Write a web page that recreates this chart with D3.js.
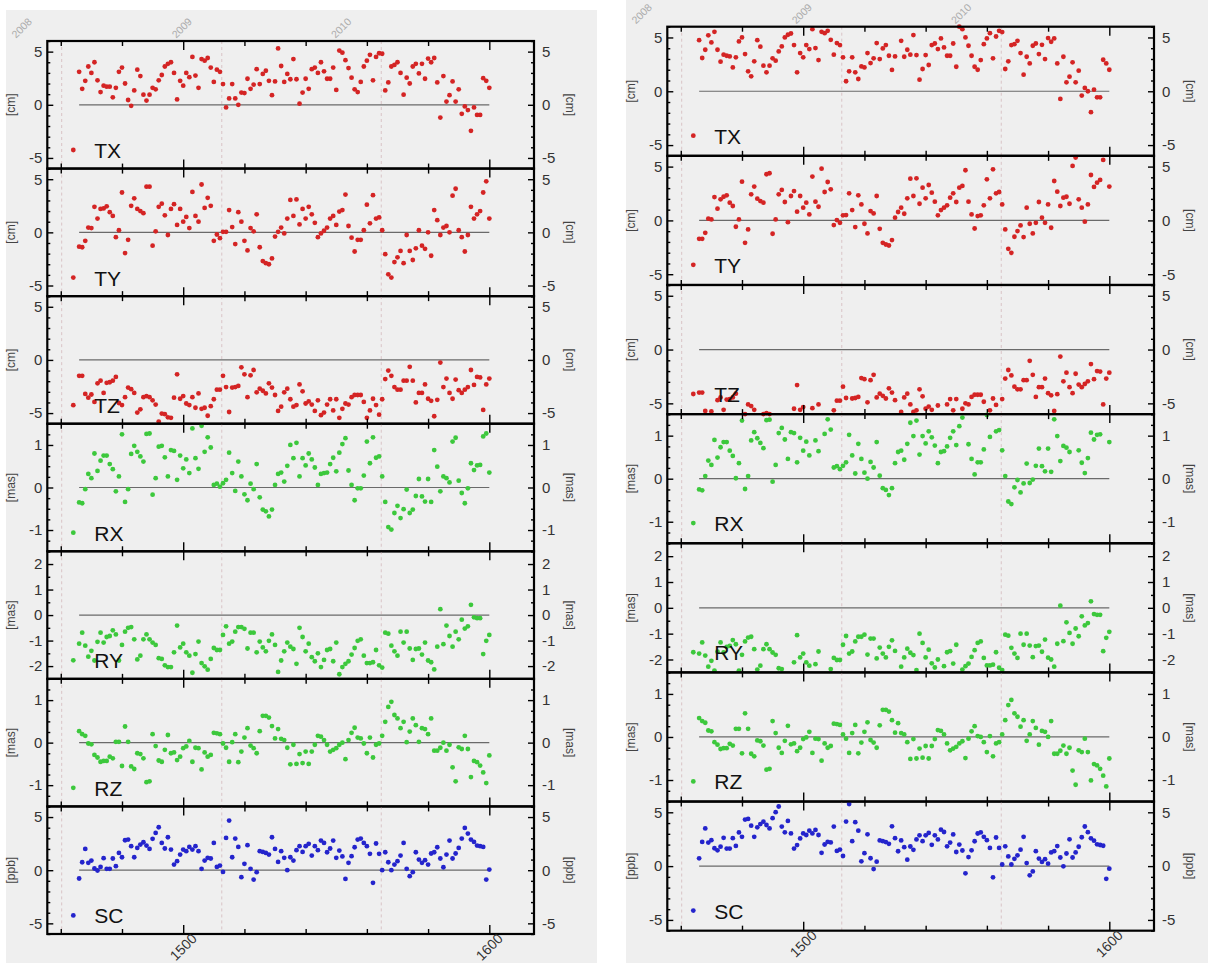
<!DOCTYPE html>
<html>
<head>
<meta charset="utf-8">
<script src="https://cdn.jsdelivr.net/npm/d3@7"></script>
<style>
  body { margin: 0; background: #fff; }
  svg { display: block; font-family: "Liberation Sans", Arial, sans-serif; }
  .tick text { font-size: 15px; fill: #333; }
  .tick line { stroke: #000; stroke-width: 1.4; }
</style>
</head>
<body>
<svg id="vis-svg"></svg>
<script>
// GPS weeks of the weekly solutions
var weeks = d3.range(1466, 1601);
var yearWeeks = [1460.3, 1512.6, 1564.7];
var yearLabels = ["2008", "2009", "2010"];
var weekTicks = [1460, 1480, 1520, 1540, 1560, 1580];
var weekLabels = [1500, 1600];

var components = ["TX", "TY", "TZ", "RX", "RY", "RZ", "SC"];
var units = ["[cm]", "[cm]", "[cm]", "[mas]", "[mas]", "[mas]", "[ppb]"];
var yTicks = [[-5, 0, 5], [-5, 0, 5], [-5, 0, 5], [-1, 0, 1], [-2, -1, 0, 1, 2], [-1, 0, 1], [-5, 0, 5]];

// left panel
var leftTX = [3.1,1.5,2.25,3.6,3.0,4.0,2.3,1.2,1.8,1.7,
  1.7,0.7,1.6,3.1,3.5,2.0,0.45,-0.1,1.35,3.3,
  2.7,0.95,0.4,0.95,1.6,1.45,2.3,2.8,3.6,3.85,
  4.0,3.0,0.5,2.25,1.8,3.0,2.6,4.5,2.75,1.6,
  4.3,4.15,4.4,3.5,2.15,3.3,3.1,1.95,-0.25,0.6,
  1.95,0.6,0.0,1.15,1.1,2.45,1.5,1.9,3.35,1.95,
  2.9,3.2,2.25,0.9,2.2,5.3,3.65,2.15,2.9,2.4,
  4.3,2.4,0.1,1.15,2.45,1.5,3.35,3.5,3.0,4.0,
  3.15,2.45,2.45,3.5,1.4,5.1,4.9,4.2,3.45,2.55,
  1.45,1.2,2.15,3.6,4.15,4.7,2.3,4.5,4.85,4.8,
  1.35,2.1,3.6,3.75,4.0,3.0,0.95,2.55,2.0,3.6,
  3.85,2.95,3.85,2.45,4.35,4.0,4.4,2.1,-1.2,2.7,
  0.3,0.9,2.2,0.3,1.45,-0.85,-0.15,-0.5,-2.45,-0.25,
  -0.95,-0.95,2.5,2.25,1.6];
var leftTY = [-1.35,-1.4,-0.8,0.45,0.4,2.4,1.3,2.2,2.25,2.45,
  1.9,1.55,-0.45,0.2,3.75,-1.95,-0.7,2.5,3.2,2.2,
  2.0,1.8,4.3,4.3,-1.25,0.1,2.4,2.7,1.6,-0.25,
  2.2,2.65,0.7,2.2,1.0,1.45,0.4,3.8,1.55,1.0,
  4.5,2.3,3.25,2.5,-0.8,-0.2,-0.55,0.05,0.05,2.1,
  0.5,-1.1,1.9,1.0,-0.8,-1.7,0.4,0.1,1.7,-1.4,
  -2.7,-2.9,-3.0,-2.45,-0.4,0.05,0.45,-0.1,1.3,3.05,
  1.55,3.1,0.75,2.2,1.3,2.4,1.7,0.9,-0.45,-0.1,
  0.15,0.45,1.3,1.55,0.7,1.95,2.1,3.55,0.6,-0.5,
  -1.8,-0.7,-0.7,0.2,2.6,0.85,3.5,1.3,1.4,0.2,
  -2.05,-3.95,-4.25,-2.8,-2.35,-1.75,-2.9,-0.25,-1.75,-2.6,
  -1.5,0.2,-1.25,-1.55,0.0,-2.2,2.1,1.15,-0.25,0.45,
  0.6,0.0,3.45,4.1,0.2,-0.45,-1.8,-0.25,2.4,1.3,
  1.7,2.0,3.75,4.8,1.3];
var leftTZ = [-1.5,-1.5,-3.2,-3.55,-3.25,-3.95,-2.2,-1.95,-3.1,-2.15,
  -2.1,-1.95,-1.6,-4.05,-4.25,-3.5,-2.6,-2.75,-3.1,-4.95,
  -4.65,-3.5,-3.4,-3.5,-3.8,-4.2,-5.8,-5.05,-5.1,-5.4,
  -5.45,-3.55,-1.35,-3.65,-3.4,-4.1,-4.25,-3.5,-4.5,-3.15,
  -4.6,-4.5,-5.25,-4.35,-3.7,-2.8,-2.8,-1.5,-2.55,-4.9,
  -2.6,-2.55,-2.45,-0.7,-1.35,-3.5,-1.45,-0.95,-3.05,-2.7,
  -2.9,-3.15,-2.2,-2.6,-3.3,-4.8,-4.4,-3.05,-2.7,-3.7,
  -4.4,-4.25,-2.3,-2.95,-4.1,-3.9,-4.2,-4.8,-3.8,-5.2,
  -4.95,-4.2,-3.7,-4.75,-3.7,-5.45,-4.6,-4.1,-4.2,-3.5,
  -3.3,-3.3,-3.3,-3.95,-5.45,-4.75,-3.65,-4.25,-5.15,-3.7,
  -1.8,-1.0,-1.5,-2.55,-2.8,-2.8,-1.95,-1.95,-0.65,-1.95,
  -4.0,-3.1,-3.1,-2.3,-3.65,-3.85,-5.3,-3.75,-0.25,-2.55,
  -1.75,-3.1,-3.65,-1.85,-2.85,-3.1,-2.8,-2.55,-0.95,-2.35,
  -1.6,-1.65,-4.7,-2.3,-1.75];
var leftRX = [-0.35,-0.37,-0.04,0.32,0.22,0.8,0.39,0.63,0.75,0.75,
  0.55,0.43,-0.09,0.26,1.25,-0.34,-0.04,0.79,0.98,0.84,
  0.73,0.61,1.26,1.27,-0.17,0.22,0.96,0.98,0.71,0.26,
  0.88,0.86,0.18,0.75,0.45,0.66,0.34,1.39,0.69,0.44,
  1.45,0.84,1.18,0.94,0.06,0.09,0.02,0.1,0.18,0.82,
  0.34,-0.08,0.61,0.26,-0.16,-0.3,0.09,-0.04,0.55,-0.23,
  -0.52,-0.56,-0.68,-0.52,0.06,0.32,0.35,0.14,0.51,1.0,
  0.69,1.05,0.26,0.69,0.52,0.8,0.66,0.47,0.06,0.32,
  0.34,0.35,0.55,0.7,0.38,0.82,1.02,1.16,0.4,0.06,
  -0.3,-0.02,-0.02,0.28,1.08,0.57,1.18,0.7,0.73,0.26,
  -0.34,-0.93,-0.99,-0.6,-0.43,-0.72,-0.51,-0.05,-0.6,-0.52,
  -0.2,0.2,-0.21,-0.33,0.2,-0.34,0.88,0.49,-0.09,0.26,
  0.22,0.12,1.08,1.17,0.16,-0.13,-0.37,-0.02,0.57,0.41,
  0.52,0.53,1.2,1.27,0.35];
var leftRY = [-1.12,-0.69,-1.2,-1.63,-1.4,-1.78,-1.05,-0.69,-1.08,-0.86,
  -0.82,-0.6,-0.76,-1.78,-1.17,-0.65,-0.5,-0.47,-0.95,-1.74,
  -1.59,-0.95,-0.76,-0.95,-1.08,-1.17,-1.69,-1.72,-1.97,-2.04,
  -2.04,-1.46,-0.41,-1.27,-1.12,-1.46,-1.59,-2.26,-1.53,-1.04,
  -1.88,-2.01,-2.14,-1.72,-1.29,-1.37,-1.37,-0.78,-0.44,-1.12,
  -1.04,-0.65,-0.47,-0.47,-0.54,-1.31,-0.69,-0.69,-1.46,-1.04,
  -1.27,-1.42,-1.01,-0.76,-1.17,-2.23,-1.78,-1.42,-1.08,-1.24,
  -1.33,-1.91,-0.5,-0.86,-1.42,-1.12,-1.65,-1.81,-1.5,-2.04,
  -1.76,-1.37,-1.33,-1.81,-1.08,-2.32,-2.04,-1.91,-1.81,-1.55,
  -1.29,-1.01,-0.95,-1.59,-1.88,-1.88,-1.85,-1.37,-1.97,-2.06,
  -0.69,-0.73,-1.2,-1.42,-1.59,-0.65,-1.08,-0.65,-1.31,-1.76,
  -1.33,-1.31,-1.55,-1.08,-1.78,-1.85,-2.13,-1.24,0.23,-1.14,
  -0.41,-0.82,-1.24,-0.65,-0.95,-0.18,-0.53,-0.44,0.4,-0.09,
  -0.12,-0.12,-1.53,-1.01,-0.78];
var leftRZ = [0.27,0.2,0.16,-0.02,-0.04,-0.29,-0.35,-0.45,-0.43,-0.43,
  -0.33,-0.37,0.02,0.02,-0.55,0.38,0.02,-0.56,-0.62,-0.25,
  -0.27,-0.37,-0.93,-0.91,0.2,-0.08,-0.42,-0.45,-0.17,0.18,
  -0.25,-0.23,-0.41,-0.33,-0.13,-0.09,0.04,-0.45,-0.12,-0.13,
  -0.63,-0.23,-0.33,-0.29,0.23,0.22,0.2,-0.02,-0.12,-0.45,
  0.01,0.2,-0.46,-0.21,0.12,0.34,-0.07,-0.13,-0.25,0.27,
  0.63,0.63,0.59,0.39,0.1,0.32,0.09,0.06,-0.12,-0.51,
  -0.05,-0.5,-0.27,-0.48,-0.21,-0.5,-0.21,-0.05,0.16,0.14,
  0.06,-0.05,-0.21,-0.17,-0.13,-0.05,0.0,-0.39,0.06,0.23,
  0.35,0.12,0.1,-0.02,-0.25,0.12,-0.35,-0.05,-0.02,0.16,
  0.49,0.84,0.96,0.65,0.57,0.34,0.49,0.01,0.26,0.57,
  0.41,0.02,0.34,0.32,0.2,0.57,-0.19,-0.19,-0.12,0.0,
  -0.19,-0.05,-0.58,-0.91,-0.11,-0.15,0.16,-0.15,-0.81,-0.43,
  -0.46,-0.54,-0.7,-0.95,-0.3];
var leftSC = [-0.78,0.75,2.0,0.69,0.91,0.16,-0.03,0.31,1.13,0.13,
  0.13,1.1,0.38,1.63,1.22,2.82,2.88,2.26,1.22,2.1,
  2.41,2.63,2.32,2.0,2.95,3.51,4.04,2.57,2.04,3.1,
  1.94,0.53,0.85,1.47,1.94,1.79,2.19,1.94,2.26,1.79,
  0.13,0.91,1.16,1.1,2.57,0.31,0.44,-0.16,3.04,4.67,
  1.22,2.98,2.19,-0.66,0.6,2.35,0.13,-0.88,-0.19,1.79,
  1.72,1.63,1.47,3.1,2.0,0.78,1.79,1.16,0.0,1.22,
  0.91,1.88,2.26,1.72,2.26,2.48,1.38,2.26,1.88,2.79,
  2.57,1.69,2.04,2.79,1.16,1.85,1.3,-0.82,0.69,1.32,
  2.16,2.88,2.98,2.57,2.26,1.54,-1.19,2.51,1.54,0.0,
  1.69,0.75,0.0,0.53,0.85,1.38,2.57,0.13,-0.56,-0.19,
  1.69,1.0,0.69,0.94,0.53,1.57,1.69,2.16,1.1,0.28,
  1.47,2.79,1.1,1.57,2.1,2.98,3.98,3.45,2.88,2.66,
  2.32,2.26,2.19,-0.88,0.06];

// right panel
var rightTX = [4.75,3.09,3.86,5.2,4.54,5.52,3.86,2.75,3.4,3.3,
  3.24,2.22,3.15,4.63,5.0,3.46,1.85,1.39,2.78,4.75,
  4.14,2.38,1.76,2.38,3.06,2.84,3.7,4.17,5.0,5.25,
  5.37,4.29,1.76,3.55,3.15,4.29,3.92,5.77,4.01,2.9,
  5.52,5.4,5.62,4.78,3.4,4.48,4.29,3.15,0.93,1.85,
  3.15,1.76,1.14,2.31,2.22,3.55,2.62,3.06,4.48,2.99,
  3.98,4.29,3.3,1.98,3.24,6.8,4.69,3.21,3.86,3.4,
  5.22,3.36,1.08,2.07,3.36,2.44,4.29,4.44,3.92,4.91,
  4.07,3.3,3.3,4.44,2.28,6.0,5.77,5.0,4.23,3.3,
  2.28,2.0,2.9,4.38,4.91,5.4,3.06,5.09,5.62,5.5,
  2.07,2.78,4.29,4.38,4.69,3.55,1.54,3.21,2.59,4.23,
  4.44,3.46,4.32,2.99,4.94,4.6,4.91,2.59,-0.71,3.21,
  0.83,1.36,2.69,0.83,1.91,-0.4,0.31,0.0,-1.94,0.15,
  -0.56,-0.56,2.93,2.59,2.0];
var rightTY = [-1.71,-1.71,-1.15,0.16,0.09,2.17,1.09,1.96,2.2,2.33,
  1.65,1.34,-0.59,0.09,3.6,-2.08,-0.84,2.42,3.14,2.02,
  1.8,1.65,4.29,4.38,-1.24,0.09,2.42,2.83,1.71,-0.16,
  2.27,2.73,0.81,2.27,1.18,1.65,0.56,4.07,1.74,1.27,
  4.81,2.64,3.57,2.89,-0.43,0.03,-0.22,0.47,0.5,2.52,
  0.96,-0.62,2.33,1.49,-0.31,-1.21,0.87,0.65,2.27,-0.78,
  -2.08,-2.24,-2.33,-1.83,0.25,0.78,1.18,0.62,2.05,3.88,
  2.27,3.91,1.55,3.04,2.05,3.29,2.58,1.74,0.47,0.96,
  1.18,1.4,2.11,2.52,1.71,3.04,3.2,4.66,1.74,0.56,
  -0.75,0.4,0.47,1.4,3.82,2.05,4.75,2.52,2.64,1.49,
  -0.84,-2.64,-3.01,-1.52,-0.99,-0.47,-1.55,1.18,-0.31,-1.21,
  -0.22,1.71,0.25,-0.22,1.49,-0.68,3.66,2.67,1.34,2.11,
  2.2,1.55,5.06,5.84,1.96,1.18,-0.12,1.49,4.22,3.11,
  3.51,3.76,5.62,6.3,3.14];
var rightTZ = [-4.0,-4.0,-5.7,-6.05,-5.75,-6.45,-4.7,-4.45,-5.6,-4.65,
  -4.6,-4.45,-4.1,-6.55,-6.75,-6.0,-5.1,-5.25,-5.6,-7.45,
  -7.15,-6.0,-5.9,-6.0,-6.3,-6.7,-8.3,
  -7.0,-7.05,-7.35,-7.4,-5.5,-3.3,-5.6,-5.35,-6.05,-6.2,
  -5.45,-6.45,-5.1,-6.55,-6.45,-7.2,-6.3,-5.65,-4.75,-4.75,
  -3.45,-4.5,-6.85,-4.55,-4.5,-4.4,-2.65,
  -2.75,-4.9,-2.85,-2.35,-4.45,-4.1,-4.3,-4.55,-3.6,-4.0,
  -4.7,-6.2,-5.8,-4.45,-4.1,-5.1,-5.8,-5.65,-3.7,-4.35,
  -5.5,-5.3,-5.6,-6.2,-5.2,-6.6,-6.35,
  -5.1,-4.6,-5.65,-4.6,-6.35,-5.5,-5.0,-5.1,-4.4,-4.2,
  -4.2,-4.2,-4.85,-6.35,-5.65,-4.55,-5.15,-6.05,-4.6,-2.7,
  -1.9,-2.4,-3.45,-3.7,-3.7,-2.85,-2.85,
  -1.05,-2.35,-4.4,-3.5,-3.5,-2.7,-4.05,-4.25,-5.7,-4.15,
  -0.65,-2.95,-2.15,-3.5,-4.05,-2.25,-3.25,-3.5,-3.2,-2.95,
  -1.35,-2.75,-2.0,-2.05,-5.1,-2.7,-2.15];
var rightRX = [-0.25,-0.27,0.06,0.42,0.32,0.9,0.49,0.73,0.85,0.85,
  0.65,0.53,0.01,0.36,1.35,-0.24,0.06,0.89,1.08,0.94,
  0.83,0.71,1.36,1.37,-0.07,0.32,1.06,
  1.18,0.91,0.46,1.08,1.06,0.38,0.95,0.65,0.86,0.54,
  1.59,0.89,0.64,1.65,1.04,1.38,1.14,0.26,0.29,0.22,
  0.3,0.38,1.02,0.54,0.12,0.81,0.46,
  0.14,0.0,0.39,0.26,0.85,0.07,-0.22,-0.26,-0.38,-0.22,
  0.36,0.62,0.65,0.44,0.81,1.3,0.99,1.35,0.56,0.99,
  0.82,1.1,0.96,0.77,0.36,0.62,0.64,
  0.75,0.95,1.1,0.78,1.22,1.42,1.56,0.8,0.46,0.1,
  0.38,0.38,0.68,1.48,0.97,1.58,1.1,1.13,0.66,0.06,
  -0.53,-0.59,-0.2,-0.03,-0.32,-0.11,0.35,
  -0.1,-0.02,0.3,0.7,0.29,0.17,0.7,0.16,1.38,0.99,
  0.41,0.76,0.72,0.62,1.58,1.67,0.66,0.37,0.13,0.48,
  1.07,0.91,1.02,1.03,1.7,1.77,0.85];
var rightRY = [-1.77,-1.34,-1.85,-2.28,-2.05,-2.43,-1.7,-1.34,-1.73,-1.51,
  -1.47,-1.25,-1.41,-2.43,-1.82,-1.3,-1.15,-1.12,-1.6,-2.39,
  -2.24,-1.6,-1.41,-1.6,-1.73,-1.82,-2.34,
  -2.37,-2.62,-2.69,-2.69,-2.11,-1.06,-1.92,-1.77,-2.11,-2.24,
  -2.91,-2.18,-1.69,-2.53,-2.66,-2.79,-2.37,-1.94,-2.02,-2.02,
  -1.43,-1.09,-1.77,-1.69,-1.3,-1.12,-1.12,
  -1.04,-1.81,-1.19,-1.19,-1.96,-1.54,-1.77,-1.92,-1.51,-1.26,
  -1.67,-2.73,-2.28,-1.92,-1.58,-1.74,-1.83,-2.41,-1.0,-1.36,
  -1.92,-1.62,-2.15,-2.31,-2.0,-2.54,-2.26,
  -1.72,-1.68,-2.16,-1.43,-2.67,-2.39,-2.26,-2.16,-1.9,-1.64,
  -1.36,-1.3,-1.94,-2.23,-2.23,-2.2,-1.72,-2.32,-2.41,-1.04,
  -1.08,-1.55,-1.77,-1.94,-1.0,-1.43,-1.0,
  -1.46,-1.91,-1.48,-1.46,-1.7,-1.23,-1.93,-2.0,-2.28,-1.39,
  0.08,-1.29,-0.56,-0.97,-1.39,-0.8,-1.1,-0.33,-0.68,-0.59,
  0.25,-0.24,-0.27,-0.27,-1.68,-1.16,-0.93];
var rightRZ = [0.44,0.37,0.33,0.15,0.13,-0.12,-0.18,-0.28,-0.26,-0.26,
  -0.16,-0.2,0.19,0.19,-0.38,0.55,0.19,-0.39,-0.45,-0.08,
  -0.1,-0.2,-0.76,-0.74,0.37,0.09,-0.25,
  -0.37,-0.09,0.26,-0.17,-0.15,-0.33,-0.25,-0.05,-0.01,0.12,
  -0.37,-0.04,-0.05,-0.55,-0.15,-0.25,-0.21,0.31,0.3,0.28,
  0.06,-0.04,-0.37,0.09,0.28,-0.38,-0.13,
  0.12,0.34,-0.07,-0.13,-0.25,0.27,0.63,0.63,0.59,0.39,
  0.1,0.32,0.09,0.06,-0.12,-0.51,-0.05,-0.5,-0.27,-0.48,
  -0.21,-0.5,-0.21,-0.05,0.16,0.14,0.06,
  -0.15,-0.31,-0.27,-0.23,-0.15,-0.1,-0.49,-0.04,0.13,0.25,
  0.02,0.0,-0.12,-0.35,0.02,-0.45,-0.15,-0.12,0.06,0.39,
  0.74,0.86,0.55,0.47,0.24,0.39,-0.09,
  0.06,0.37,0.21,-0.18,0.14,0.12,0.0,0.37,-0.39,-0.39,
  -0.32,-0.2,-0.39,-0.25,-0.78,-1.11,-0.31,-0.35,-0.04,-0.35,
  -1.01,-0.63,-0.66,-0.74,-0.9,-1.15,-0.5];
var rightSC = [0.72,2.25,3.5,2.19,2.41,1.66,1.47,1.81,2.63,1.63,
  1.63,2.6,1.88,3.13,2.72,4.32,4.38,3.76,2.72,3.6,
  3.91,4.13,3.82,3.5,4.45,5.01,5.54,
  3.67,3.14,4.2,3.04,1.63,1.95,2.57,3.04,2.89,3.29,
  3.04,3.36,2.89,1.23,2.01,2.26,2.2,3.67,1.41,1.54,
  0.94,4.14,5.77,2.32,4.08,3.29,0.44,
  1.2,2.95,0.73,-0.28,0.41,2.39,2.32,2.23,2.07,3.7,
  2.6,1.38,2.39,1.76,0.6,1.82,1.51,2.48,2.86,2.32,
  2.86,3.08,1.98,2.86,2.48,3.39,3.17,
  1.84,2.19,2.94,1.31,2.0,1.45,-0.67,0.84,1.47,2.31,
  3.03,3.13,2.72,2.41,1.69,-1.04,2.66,1.69,0.15,1.84,
  0.9,0.15,0.68,1.0,1.53,2.72,0.28,
  -0.86,-0.49,1.39,0.7,0.39,0.64,0.23,1.27,1.39,1.86,
  0.8,-0.02,1.17,2.49,0.8,1.27,1.8,2.68,3.68,3.15,
  2.58,2.36,2.02,1.96,1.89,-1.18,-0.24];

var leftSeries = [leftTX, leftTY, leftTZ, leftRX, leftRY, leftRZ, leftSC];
var rightSeries = [rightTX, rightTY, rightTZ, rightRX, rightRY, rightRZ, rightSC];

// per-row axis settings
var rowStyle = [
  {domain: [-6, 6], minor: 1, color: '#d42424'},
  {domain: [-6, 6], minor: 1, color: '#d42424'},
  {domain: [-6, 6], minor: 1, color: '#d42424'},
  {domain: [-1.5, 1.5], minor: 0.25, color: '#3cc83c'},
  {domain: [-2.5, 2.5], minor: 0.5, color: '#3cc83c'},
  {domain: [-1.5, 1.5], minor: 0.25, color: '#3cc83c'},
  {domain: [-6, 6], minor: 1, color: '#2424cc'}
];

var panels = [
  {bg: [6, 10, 591, 953], left: 47.3, right: 534, top: 41, rowH: 127.57, series: leftSeries},
  {bg: [626, 0, 582, 963], left: 667.3, right: 1154, top: 26.7, rowH: 129.14, series: rightSeries}
];

var svg = d3.select('#vis-svg')
  .attr('width', 1208)
  .attr('height', 963);

function noDomain(g) { g.select('.domain').remove(); }

panels.forEach(function(p) {
  svg.append('rect')
    .attr('x', p.bg[0]).attr('y', p.bg[1])
    .attr('width', p.bg[2]).attr('height', p.bg[3])
    .attr('fill', '#efefef');

  var x = d3.scaleLinear()
    .domain([1455.6, 1614.6])
    .range([p.left, p.right]);

  // year labels along the top
  svg.selectAll(null)
    .data(yearWeeks)
    .enter()
    .append('text')
    .attr('transform', function(d) { return 'translate(' + (x(d) - 40) + ',' + (p.top - 13) + ') rotate(-45)'; })
    .attr('text-anchor', 'middle')
    .attr('dy', '0.35em')
    .attr('font-size', 10.5)
    .attr('fill', '#acacac')
    .text(function(d, i) { return yearLabels[i]; });

  components.forEach(function(name, i) {
    var rowTop = p.top + i * p.rowH;
    var rowBottom = rowTop + p.rowH;
    var st = rowStyle[i];
    var y = d3.scaleLinear().domain(st.domain).range([rowBottom, rowTop]);
    var g = svg.append('g');

    // year boundaries
    g.selectAll('line.year')
      .data(yearWeeks)
      .enter()
      .append('line')
      .attr('x1', function(d) { return x(d); })
      .attr('x2', function(d) { return x(d); })
      .attr('y1', rowTop)
      .attr('y2', rowBottom)
      .attr('stroke', '#d9c3c6')
      .attr('stroke-dasharray', '3,3');

    // zero line
    g.append('line')
      .attr('x1', x(weeks[0]))
      .attr('x2', x(weeks[weeks.length - 1]))
      .attr('y1', y(0))
      .attr('y2', y(0))
      .attr('stroke', '#6a6a6a')
      .attr('stroke-width', 1.2);

    // points (values outside the range are not drawn)
    var pts = p.series[i].map(function(v, k) { return {w: weeks[k], v: v}; })
      .filter(function(d) { return d.v >= st.domain[0] && d.v <= st.domain[1]; });
    g.selectAll('circle.pt')
      .data(pts)
      .enter()
      .append('circle')
      .attr('cx', function(d) { return x(d.w); })
      .attr('cy', function(d) { return y(d.v); })
      .attr('r', 2.4)
      .attr('fill', st.color);

    // y axes, ticks pointing inward
    var minorVals = d3.range(st.domain[0], st.domain[1] + 1e-6, st.minor)
      .filter(function(v) { return yTicks[i].indexOf(+v.toFixed(3)) < 0; });
    var fmt = function(d) { return String(d); };

    g.append('g').attr('transform', 'translate(' + p.left + ',0)')
      .call(d3.axisLeft(y).tickValues(yTicks[i]).tickSize(-6).tickPadding(5).tickFormat(fmt))
      .call(noDomain);
    g.append('g').attr('transform', 'translate(' + p.left + ',0)')
      .call(d3.axisLeft(y).tickValues(minorVals).tickSize(-3).tickFormat(''))
      .call(noDomain);
    g.append('g').attr('transform', 'translate(' + p.right + ',0)')
      .call(d3.axisRight(y).tickValues(yTicks[i]).tickSize(-6).tickPadding(8).tickFormat(fmt))
      .call(noDomain);
    g.append('g').attr('transform', 'translate(' + p.right + ',0)')
      .call(d3.axisRight(y).tickValues(minorVals).tickSize(-3).tickFormat(''))
      .call(noDomain);

    // x ticks on top and bottom edges
    [[d3.axisTop, rowTop], [d3.axisBottom, rowBottom]].forEach(function(a) {
      g.append('g').attr('transform', 'translate(0,' + a[1] + ')')
        .call(a[0](x).tickValues(weekTicks).tickSize(-5).tickFormat(''))
        .call(noDomain);
      g.append('g').attr('transform', 'translate(0,' + a[1] + ')')
        .call(a[0](x).tickValues(weekLabels).tickSize(-9).tickFormat(''))
        .call(noDomain);
    });

    // frame
    g.append('rect')
      .attr('x', p.left).attr('y', rowTop)
      .attr('width', p.right - p.left).attr('height', p.rowH)
      .attr('fill', 'none')
      .attr('stroke', '#000')
      .attr('stroke-width', 2.2);

    // units
    g.append('text')
      .attr('transform', 'translate(' + (p.left - 37) + ',' + (rowTop + p.rowH / 2) + ') rotate(-90)')
      .attr('text-anchor', 'middle').attr('dy', '0.35em')
      .attr('font-size', 12).attr('fill', '#444')
      .text(units[i]);
    g.append('text')
      .attr('transform', 'translate(' + (p.right + 36) + ',' + (rowTop + p.rowH / 2) + ') rotate(90)')
      .attr('text-anchor', 'middle').attr('dy', '0.35em')
      .attr('font-size', 12).attr('fill', '#444')
      .text(units[i]);

    // legend
    g.append('circle')
      .attr('cx', p.left + 26).attr('cy', rowTop + 109)
      .attr('r', 2.4).attr('fill', st.color);
    g.append('text')
      .attr('x', p.left + 47).attr('y', rowTop + 117)
      .attr('font-size', 21).attr('fill', '#111')
      .text(name);

    // week labels under the last row
    if (i === components.length - 1) {
      g.selectAll('text.wk')
        .data(weekLabels)
        .enter()
        .append('text')
        .attr('transform', function(d) { return 'translate(' + x(d) + ',' + (rowBottom + 13) + ') rotate(-45)'; })
        .attr('text-anchor', 'middle').attr('dy', '0.35em')
        .attr('font-size', 14).attr('fill', '#333')
        .text(function(d) { return d; });
    }
  });
});
</script>
</body>
</html>
